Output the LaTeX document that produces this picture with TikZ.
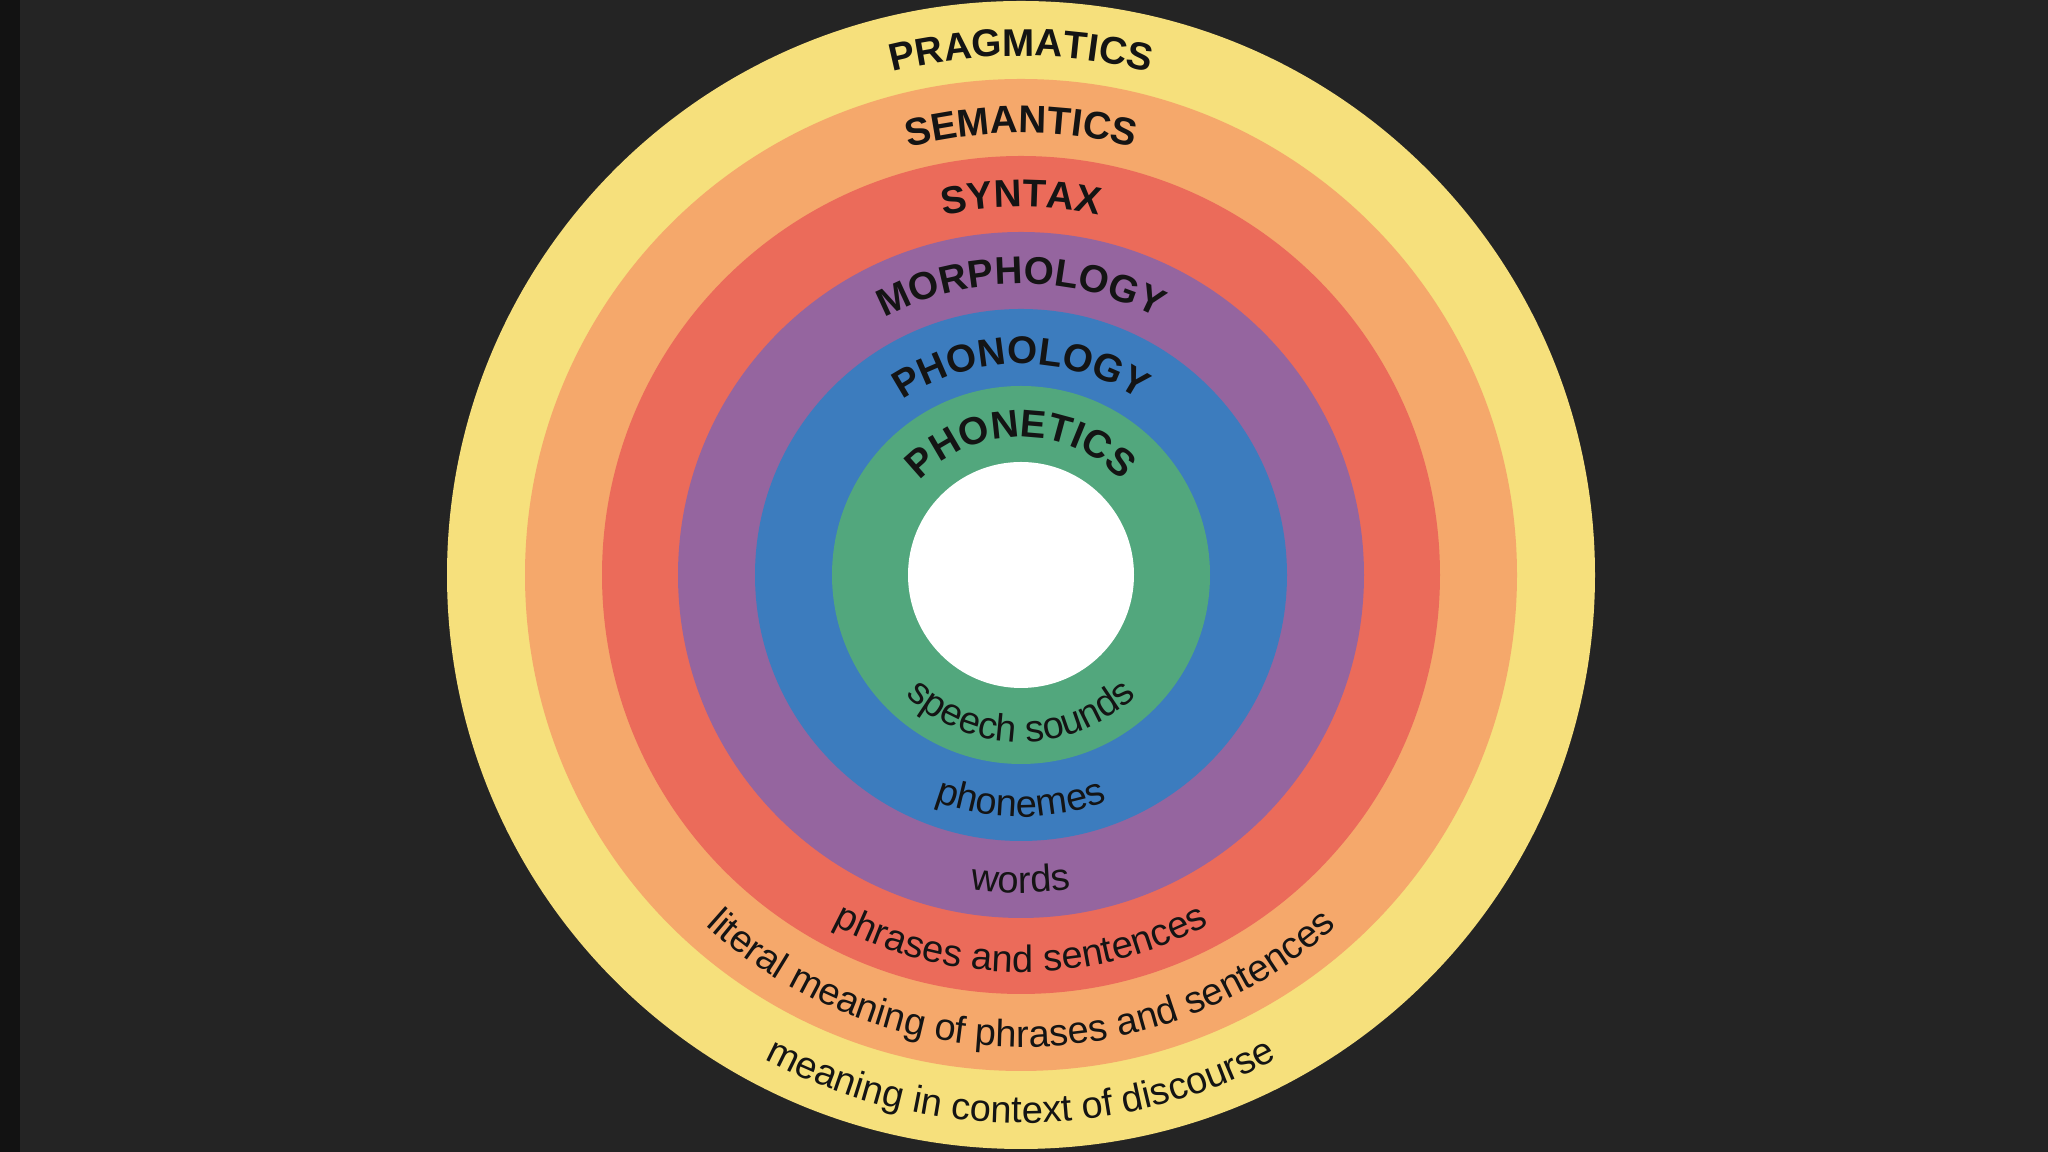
\documentclass[tikz,border=0pt]{standalone}
\usepackage{fontspec}
\usetikzlibrary{decorations.text}
\newfontfamily\capsfont{Liberation Sans}[LetterSpace=16]
\newfontfamily\wordfont{Liberation Sans}
\newcommand\capsstyle{\capsfont\bfseries\fontsize{11pt}{13pt}\selectfont}
\newcommand\wordstyle{\wordfont\fontsize{10.8pt}{13pt}\selectfont}
\definecolor{board}{HTML}{242424}
\definecolor{boardedge}{HTML}{121212}
\definecolor{pragmaticscol}{HTML}{F6E07C}
\definecolor{semanticscol}{HTML}{F5A86B}
\definecolor{syntaxcol}{HTML}{EB6B5A}
\definecolor{morphologycol}{HTML}{95659F}
\definecolor{phonologycol}{HTML}{3C7CBE}
\definecolor{phoneticscol}{HTML}{52A77D}
\definecolor{labelink}{HTML}{141414}

\begin{document}
\begin{tikzpicture}[
        uplabel/.style={decorate, decoration={text along path, text align=center, text color=labelink}},%texte en haut, lu de gauche a droite
        downlabel/.style={decorate, decoration={text along path, text align=center, text color=labelink}}]%texte en bas
    % fond (tableau noir)
    \fill[board] (0,0) rectangle (20.48,11.52);
    \fill[boardedge] (0,0) rectangle (0.2,11.52);
    \useasboundingbox (0,0) rectangle (20.48,11.52);
    \coordinate (O) at (10.21,5.77);

    % anneaux
    \fill[pragmaticscol] (O) circle (5.74);
    \fill[semanticscol] (O) circle (4.96);
    \fill[syntaxcol] (O) circle (4.19);
    \fill[morphologycol] (O) circle (3.43);
    \fill[phonologycol] (O) circle (2.66);
    \fill[phoneticscol] (O) circle (1.89);
    \fill[white] (O) circle (1.13);

    % titres
    \path[uplabel, decoration={text={|\capsstyle|PRAGMATICS}}] ([shift={(180:5.19)}]O) arc[start angle=180, end angle=0, radius=5.19];
    \path[uplabel, decoration={text={|\capsstyle|SEMANTICS}}] ([shift={(180:4.42)}]O) arc[start angle=180, end angle=0, radius=4.42];
    \path[uplabel, decoration={text={|\capsstyle|SYNTAX}}] ([shift={(180:3.68)}]O) arc[start angle=180, end angle=0, radius=3.68];
    \path[uplabel, decoration={text={|\capsstyle|MORPHOLOGY}}] ([shift={(180:2.91)}]O) arc[start angle=180, end angle=0, radius=2.91];
    \path[uplabel, decoration={text={|\capsstyle|PHONOLOGY}}] ([shift={(180:2.11)}]O) arc[start angle=180, end angle=0, radius=2.11];
    \path[uplabel, decoration={text={|\capsstyle|PHONETICS}}] ([shift={(180:1.38)}]O) arc[start angle=180, end angle=0, radius=1.38];

    % descriptions
    \path[downlabel, decoration={text={|\wordstyle|speech sounds}}] ([shift={(180:1.67)}]O) arc[start angle=180, end angle=360, radius=1.67];
    \path[downlabel, decoration={text={|\wordstyle|phonemes}}] ([shift={(180:2.42)}]O) arc[start angle=180, end angle=360, radius=2.42];
    \path[downlabel, decoration={text={|\wordstyle|words}}] ([shift={(180:3.18)}]O) arc[start angle=180, end angle=360, radius=3.18];
    \path[downlabel, decoration={text={|\wordstyle|phrases and sentences}}] ([shift={(180:3.97)}]O) arc[start angle=180, end angle=360, radius=3.97];
    \path[downlabel, decoration={text={|\wordstyle|literal meaning of phrases and sentences}}] ([shift={(180:4.72)}]O) arc[start angle=180, end angle=360, radius=4.72];
    \path[downlabel, decoration={text={|\wordstyle|meaning in context of discourse}}] ([shift={(180:5.48)}]O) arc[start angle=180, end angle=360, radius=5.48];
\end{tikzpicture}
\end{document}
